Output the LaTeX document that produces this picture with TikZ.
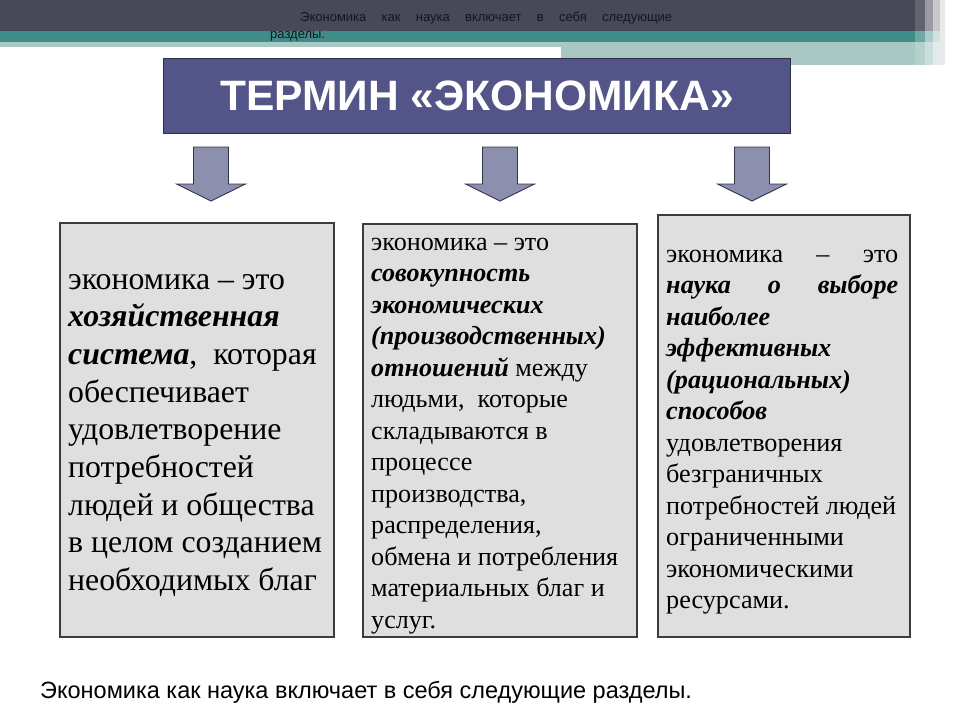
\documentclass[tikz,border=0pt]{standalone}
\usepackage{fontspec}
\setmainfont{Liberation Serif}
\newfontfamily\sansf{Liberation Sans}
\definecolor{darkbar}{HTML}{474858}
\definecolor{tealbar}{HTML}{3F8C88}
\definecolor{lightband}{HTML}{A9C8C4}
\definecolor{titlefill}{HTML}{535488}
\definecolor{titleline}{HTML}{2E2F45}
\definecolor{arrowfill}{HTML}{8C8FAE}
\definecolor{arrowline}{HTML}{33344A}
\definecolor{boxfill}{HTML}{DFDFDF}
\definecolor{boxline}{HTML}{3C3C3C}
\definecolor{hdrtext}{HTML}{15161F}
\begin{document}
\begin{tikzpicture}[x=1pt,y=-1pt,
  boxst/.style={draw=boxline, line width=1.6pt, fill=boxfill, inner sep=0pt, anchor=north west},
  titlest/.style={draw=titleline, line width=1.2pt, fill=titlefill, inner sep=0pt, anchor=north west,
     text=white, font=\sansf\bfseries\fontsize{42.5}{42.5}\selectfont},
  arrowst/.style={draw=arrowline, line width=0.9pt, fill=arrowfill, line join=miter},
  txtst/.style={anchor=base west, inner sep=0pt, text=black},
  hdrst/.style={anchor=base west, inner sep=0pt, text=hdrtext, font=\sansf\fontsize{13}{13}\selectfont}]
\useasboundingbox (0,0) rectangle (960,720);
\fill[white] (0,0) rectangle (960,720);
% top decoration
\fill[darkbar] (0,0) rectangle (915,31);
\fill[tealbar] (0,31) rectangle (915,42);
\fill[lightband] (0,42) rectangle (561,47);
\fill[lightband] (561,42) rectangle (915,65);
\fill[darkbar!85!white] (915,0) rectangle (925,31);
\fill[tealbar!75!white] (915,31) rectangle (925,42);
\fill[lightband!85!white] (915,42) rectangle (925,65);
\fill[darkbar!55!white] (925,0) rectangle (933,31);
\fill[tealbar!45!white] (925,31) rectangle (933,42);
\fill[lightband!60!white] (925,42) rectangle (933,65);
\fill[darkbar!30!white] (933,0) rectangle (940,31);
\fill[tealbar!25!white] (933,31) rectangle (940,42);
\fill[lightband!35!white] (933,42) rectangle (940,65);
\fill[darkbar!12!white] (940,0) rectangle (945,65);
\node[hdrst] (hdr1) at (300,21) {\hbox to 372pt{Экономика\hfill как\hfill наука\hfill включает\hfill в\hfill себя\hfill следующие}};
\node[hdrst] (hdr2) at (270,38) {разделы.};
% title
\node[titlest, minimum width=627pt, minimum height=75pt] (title) at (163,58) {ТЕРМИН «ЭКОНОМИКА»};
% block arrows
\foreach \cx/\nm in {211/a1, 500/a2, 752/a3}{
  \draw[arrowst] (\cx-17.5,147) -- (\cx+17.5,147) -- (\cx+17.5,184) -- (\cx+34.5,184)
     -- (\cx,201) -- (\cx-34.5,184) -- (\cx-17.5,184) -- cycle;
}
% boxes
\node[boxst, minimum width=274pt, minimum height=414pt] (b1) at (59,222) {};
\node[boxst, minimum width=274pt, minimum height=413pt] (b2) at (362,223) {};
\node[boxst, minimum width=252pt, minimum height=422pt] (b3) at (657,214) {};
\node[txtst] (t1) at (68,289) {\parbox[t]{265pt}{\raggedright\fontsize{31.8}{37.7}\selectfont
экономика – это\\
\textbf{\textit{хозяйственная}}\\
\textbf{\textit{система}}, \ которая\\
обеспечивает\\
удовлетворение\\
потребностей\\
людей и общества\\
в целом созданием\\
необходимых благ}};
\node[txtst] (t2) at (371,250) {\parbox[t]{262pt}{\raggedright\fontsize{26.1}{31.5}\selectfont
экономика – это\\
\textbf{\textit{совокупность}}\\
\textbf{\textit{экономических}}\\
\textbf{\textit{(производственных)}}\\
\textbf{\textit{отношений}} между\\
людьми, \ которые\\
складываются в\\
процессе\\
производства,\\
распределения,\\
обмена и потребления\\
материальных благ и\\
услуг.}};
\node[txtst] (t3) at (666,262) {\parbox[t]{240pt}{\raggedright\fontsize{26.2}{31.5}\selectfont
\leavevmode\hbox to 232pt{экономика\hfill –\hfill это}\\
\leavevmode\hbox to 232pt{\textbf{\textit{наука}}\hfill\textbf{\textit{о}}\hfill\textbf{\textit{выборе}}}\\
\textbf{\textit{наиболее}}\\
\textbf{\textit{эффективных}}\\
\textbf{\textit{(рациональных)}}\\
\textbf{\textit{способов}}\\
удовлетворения\\
безграничных\\
потребностей людей\\
ограниченными\\
экономическими\\
ресурсами.}};
% footer
\node[txtst, font=\sansf\fontsize{23.5}{23.5}\selectfont] (foot) at (40,698) {Экономика как наука включает в себя следующие разделы.};
\end{tikzpicture}
\end{document}
